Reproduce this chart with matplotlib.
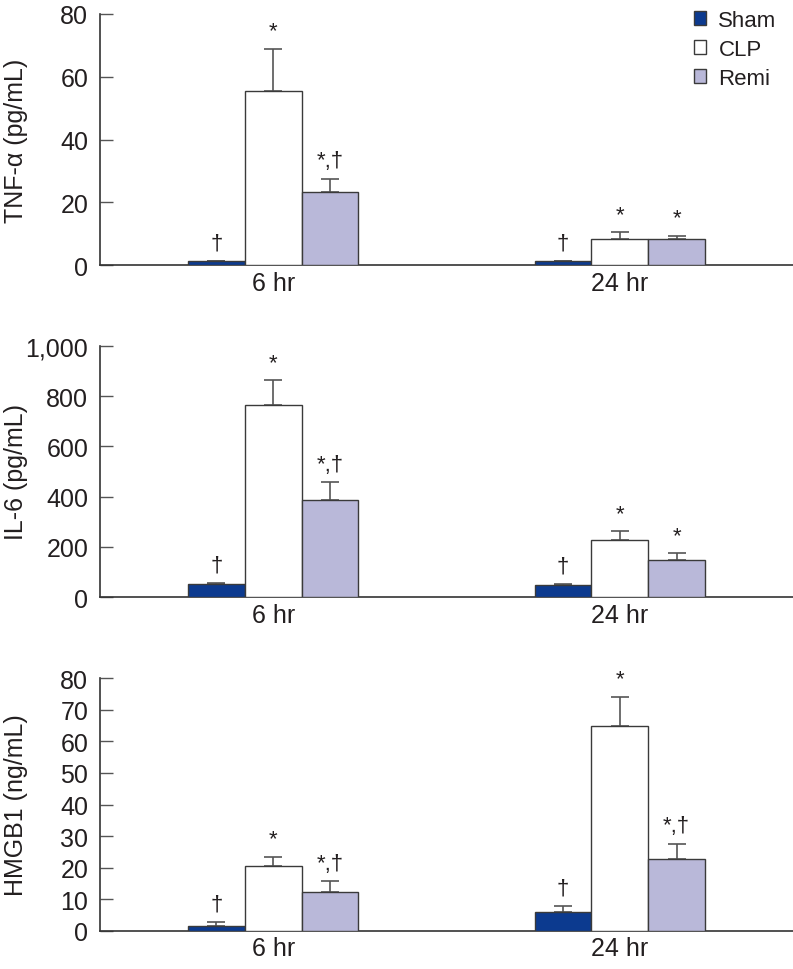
#!/usr/bin/env python3
# -*- coding: utf-8 -*-
"""Cytokine levels (TNF-a, IL-6, HMGB1) at 6 hr and 24 hr for Sham / CLP / Remi."""

import numpy as np
import matplotlib
matplotlib.use("Agg")
import matplotlib.pyplot as plt
from matplotlib.patches import Patch
from matplotlib.ticker import FuncFormatter

plt.rcParams['font.family'] = ['Liberation Sans', 'DejaVu Sans']

# ---- data ----
timepoints = ["6 hr", "24 hr"]
groups = ["Sham", "CLP", "Remi"]

tnf_mean = {"Sham": [1.2, 1.2], "CLP": [55.6, 8.3], "Remi": [23.2, 8.3]}
tnf_err = {"Sham": [0.0, 0.0], "CLP": [13.2, 2.1], "Remi": [4.2, 1.0]}
tnf_marks = {"Sham": ["†", "†"], "CLP": ["*", "*"], "Remi": ["*,†", "*"]}

il6_mean = {"Sham": [53, 50], "CLP": [765, 229], "Remi": [385, 147]}
il6_err = {"Sham": [4, 4], "CLP": [97, 33], "Remi": [73, 28]}
il6_marks = {"Sham": ["†", "†"], "CLP": ["*", "*"], "Remi": ["*,†", "*"]}

hmgb_mean = {"Sham": [1.6, 5.8], "CLP": [20.6, 64.8], "Remi": [12.4, 22.7]}
hmgb_err = {"Sham": [1.1, 2.1], "CLP": [2.7, 9.4], "Remi": [3.3, 4.9]}
hmgb_marks = {"Sham": ["†", "†"], "CLP": ["*", "*"], "Remi": ["*,†", "*,†"]}

panels = [
    ("TNF-α (pg/mL)", tnf_mean, tnf_err, tnf_marks, (0, 80), np.arange(0, 81, 20)),
    ("IL-6 (pg/mL)", il6_mean, il6_err, il6_marks, (0, 1000), np.arange(0, 1001, 200)),
    ("HMGB1 (ng/mL)", hmgb_mean, hmgb_err, hmgb_marks, (0, 80), np.arange(0, 81, 10)),
]

colors = {"Sham": "#0c3a8f", "CLP": "#ffffff", "Remi": "#b9b8d9"}
edge = "#3a3a3a"
txt = "#231f20"

W, H = 793, 970
fig = plt.figure(figsize=(W / 100, H / 100), dpi=100)

# axes boxes in pixels: (top, bottom)
boxes = [(15, 266), (346.7, 598.3), (679.3, 931.7)]
left_px = 100

bw = 0.164
offsets = {"Sham": -bw, "CLP": 0.0, "Remi": bw}
x = np.arange(len(timepoints))

for (ylabel, mean, err, marks, ylim, yticks), (top, bot) in zip(panels, boxes):
    ax = fig.add_axes([left_px / W, 1 - bot / H, 1 - left_px / W, (bot - top) / H])
    for g in groups:
        xs = x + offsets[g]
        ax.bar(xs, mean[g], width=bw, color=colors[g], edgecolor=edge, linewidth=1.0, zorder=3)
        ax.errorbar(xs, mean[g], yerr=[np.zeros(len(x)), err[g]], fmt="none",
                    ecolor="#555555", elinewidth=1.2, capsize=6.5, capthick=1.2, zorder=2)
        for xi, m, e, s in zip(xs, mean[g], err[g], marks[g]):
            ax.annotate(s, (xi, m + e), xytext=(0, 13), textcoords="offset points",
                        ha="center", va="center", fontsize=16, color=txt, annotation_clip=False)

    ax.set_xlim(-0.5, 1.5)
    ax.set_ylim(*ylim)
    ax.set_yticks(yticks)
    ax.yaxis.set_major_formatter(FuncFormatter(lambda v, p: f"{v:,.0f}"))
    ax.set_xticks(x)
    ax.set_xticklabels(timepoints)
    ax.tick_params(axis="x", length=0, pad=4, labelsize=18, labelcolor=txt)
    ax.tick_params(axis="y", direction="in", length=9.5, width=1.0, color="#555555",
                   pad=8.5, labelsize=18, labelcolor=txt)
    for side in ("top", "right"):
        ax.spines[side].set_visible(False)
    for side in ("left", "bottom"):
        ax.spines[side].set_color("#333333")
        ax.spines[side].set_linewidth(1.2)
    ax.set_ylabel(ylabel, fontsize=18, color=txt, va="center")
    ax.yaxis.set_label_coords(-(left_px - 16) / (W - left_px), 0.5)

handles = [Patch(facecolor=colors[g], edgecolor=edge, linewidth=1.0) for g in groups]
fig.legend(handles, groups, loc="upper left", bbox_to_anchor=(694 / W, 1 - 11 / H),
           frameon=False, fontsize=16, handlelength=0.55, handleheight=0.55,
           handletextpad=0.55, labelspacing=0.36, borderpad=0, borderaxespad=0,
           labelcolor=txt)

fig.savefig("out.png", dpi=100)
